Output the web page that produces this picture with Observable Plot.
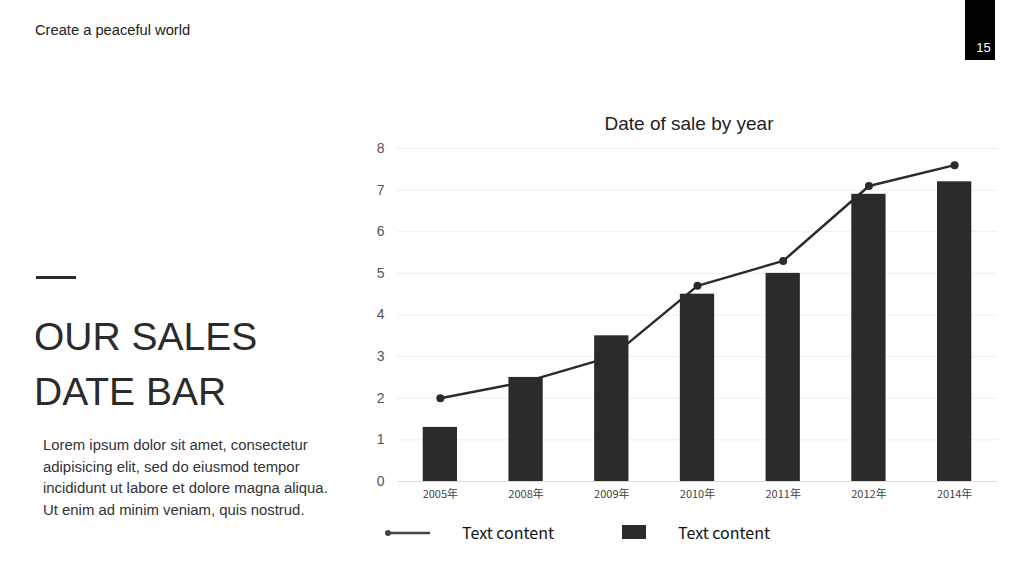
<!DOCTYPE html>
<html>
<head>
<meta charset="utf-8">
<script src="https://cdn.jsdelivr.net/npm/d3@7"></script>
<script src="https://cdn.jsdelivr.net/npm/@observablehq/plot@0.6"></script>
<style>
  html, body { margin: 0; padding: 0; background: #fff; }
  body { width: 1024px; height: 576px; position: relative; overflow: hidden; font-family: "Liberation Sans", Arial, sans-serif; color: #2b2b2b; }
  .abs { position: absolute; }
  #header { left: 35px; top: 22px; font-size: 14.7px; color: #222; }
  #pagebox { left: 965px; top: 0; width: 30px; height: 60px; background: #000; }
  #pagenum { left: 965px; top: 40px; width: 37px; text-align: center; font-size: 13px; color: #fff; }
  #dash { left: 36px; top: 276px; width: 40px; height: 3px; background: #2b2b2b; }
  #bigtitle { left: 34px; top: 309px; font-size: 39px; line-height: 55px; color: #2b2b2b; }
  #para { left: 43px; top: 435px; font-size: 14.9px; line-height: 21.7px; color: #333; width: 296px; }
  #ctitle { left: 540px; top: 113px; width: 298px; text-align: center; font-size: 19px; color: #222; }
  #chart { left: 360px; top: 140px; }
  #legend { left: 380px; top: 520px; width: 600px; height: 30px; font-family: "Noto Sans CJK JP", sans-serif; color: #111; }
</style>
</head>
<body>
<div class="abs" id="header">Create a peaceful world</div>
<div class="abs" id="pagebox"></div>
<div class="abs" id="pagenum">15</div>
<div class="abs" id="dash"></div>
<div class="abs" id="bigtitle">OUR SALES<br>DATE BAR</div>
<div class="abs" id="para">Lorem ipsum dolor sit amet, consectetur adipisicing elit, sed do eiusmod tempor incididunt ut labore et dolore magna aliqua. Ut enim ad minim veniam, quis nostrud.</div>
<div class="abs" id="ctitle">Date of sale by year</div>
<div class="abs" id="chart"></div>
<div class="abs" id="legend"></div>
<script>
const years = ["2005年", "2008年", "2009年", "2010年", "2011年", "2012年", "2014年"];
const barValues = [1.3, 2.5, 3.5, 4.5, 5.0, 6.9, 7.2];
const lineValues = [2.0, 2.4, 3.0, 4.7, 5.3, 7.1, 7.6];
const yTicks = [0, 1, 2, 3, 4, 5, 6, 7, 8];
const legendLabels = ["Text content", "Text content"];

const data = years.map((y, i) => ({year: y, bar: barValues[i], line: lineValues[i]}));
const ink = "#2b2b2b";

const chart = Plot.plot({
  width: 650,
  height: 370,
  marginLeft: 37,
  marginRight: 13,
  marginTop: 8,
  marginBottom: 29,
  style: {background: "transparent", color: "#555", fontFamily: "Liberation Sans, Arial, sans-serif"},
  x: {type: "band", domain: years, paddingInner: 0.6, paddingOuter: 0.3, round: false, label: null},
  y: {domain: [0, 8], ticks: yTicks, label: null},
  marks: [
    Plot.gridY(yTicks, {stroke: "#eeeeee", strokeOpacity: 1}),
    Plot.ruleY([0], {stroke: "#dddddd"}),
    Plot.axisY(yTicks, {tickSize: 0, tickPadding: 13, fontSize: 14, fill: "#555", label: null}),
    Plot.axisX({tickSize: 0, tickPadding: 9, fontSize: 11, fill: "#444", fontFamily: "Noto Sans CJK JP, sans-serif", label: null}),
    Plot.line(data, {x: "year", y: "line", stroke: ink, strokeWidth: 2.5}),
    Plot.dot(data, {x: "year", y: "line", r: 4, fill: ink}),
    Plot.barY(data, {x: "year", y: "bar", fill: ink})
  ]
});
document.getElementById("chart").appendChild(chart);

// legend
const lg = d3.select("#legend").append("svg").attr("width", 600).attr("height", 30);
lg.append("line").attr("x1", 8).attr("x2", 50).attr("y1", 13).attr("y2", 13).attr("stroke", "#444").attr("stroke-width", 2.5);
lg.append("circle").attr("cx", 8).attr("cy", 13).attr("r", 3).attr("fill", "#444");
lg.append("text").attr("x", 82).attr("y", 19).text(legendLabels[0]).attr("font-size", 16).attr("fill", "#111");
lg.append("rect").attr("x", 242).attr("y", 5).attr("width", 24).attr("height", 14).attr("fill", ink);
lg.append("text").attr("x", 298).attr("y", 19).text(legendLabels[1]).attr("font-size", 16).attr("fill", "#111");
</script>
</body>
</html>
